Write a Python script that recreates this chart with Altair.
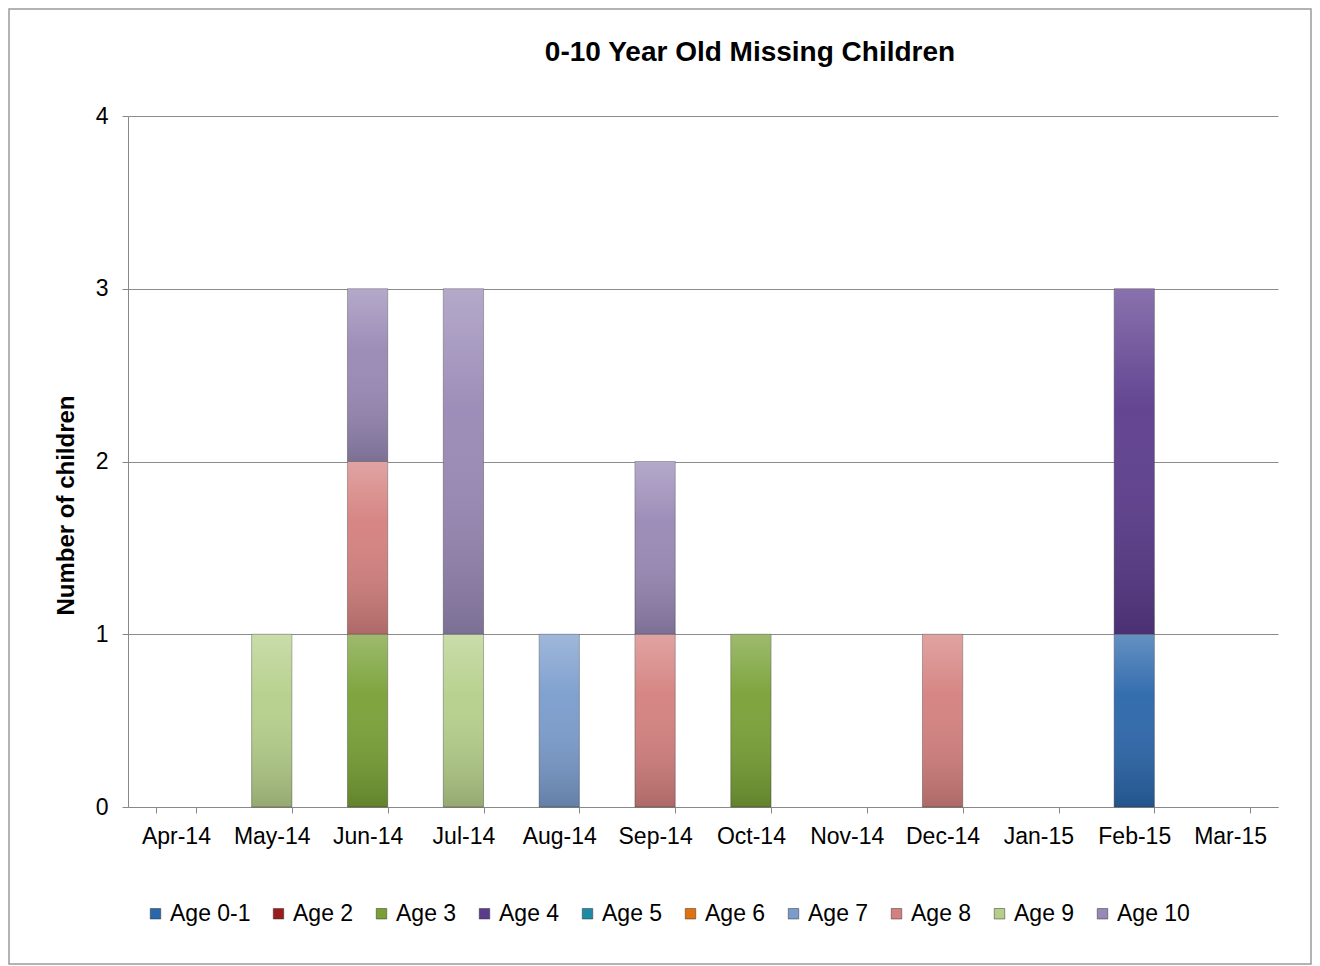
import altair as alt
import pandas as pd

months = ["Apr-14", "May-14", "Jun-14", "Jul-14", "Aug-14", "Sep-14",
          "Oct-14", "Nov-14", "Dec-14", "Jan-15", "Feb-15", "Mar-15"]
ages = ["Age 0-1", "Age 2", "Age 3", "Age 4", "Age 5",
        "Age 6", "Age 7", "Age 8", "Age 9", "Age 10"]
colors = ["#2A66AA", "#9B1C1C", "#78A035", "#5B3B8C", "#1E8BA5",
          "#E07010", "#7A9CCC", "#D4807E", "#B5CF8A", "#9888B5"]
title_text = ["0-10 Year Old Missing Children"]

age_0_1 = [0, 0, 0, 0, 0, 0, 0, 0, 0, 0, 1, 0]
age_2   = [0, 0, 0, 0, 0, 0, 0, 0, 0, 0, 0, 0]
age_3   = [0, 0, 1, 0, 0, 0, 1, 0, 0, 0, 0, 0]
age_4   = [0, 0, 0, 0, 0, 0, 0, 0, 0, 0, 2, 0]
age_5   = [0, 0, 0, 0, 0, 0, 0, 0, 0, 0, 0, 0]
age_6   = [0, 0, 0, 0, 0, 0, 0, 0, 0, 0, 0, 0]
age_7   = [0, 0, 0, 0, 1, 0, 0, 0, 0, 0, 0, 0]
age_8   = [0, 0, 1, 0, 0, 1, 0, 0, 1, 0, 0, 0]
age_9   = [0, 1, 0, 1, 0, 0, 0, 0, 0, 0, 0, 0]
age_10  = [0, 0, 1, 2, 0, 1, 0, 0, 0, 0, 0, 0]

series = [age_0_1, age_2, age_3, age_4, age_5, age_6, age_7, age_8, age_9, age_10]

rows = []
for i, (age, vals) in enumerate(zip(ages, series)):
    for m, v in zip(months, vals):
        if v > 0:
            rows.append({"Month": m, "Age": age, "Count": v, "idx": i})
df = pd.DataFrame(rows)

FONT = "Liberation Sans"

x_enc = alt.X("Month:N", sort=months, scale=alt.Scale(domain=months, paddingInner=0.58, paddingOuter=0.29),
              axis=alt.Axis(title=None, labelAngle=0, tickBand="extent", labelFontSize=23,
                            labelPadding=12, tickSize=6, labelColor="#000", labelFont=FONT,
                            domainColor="#888888", tickColor="#888888"))
y_enc = alt.Y("Count:Q", stack="zero", scale=alt.Scale(domain=[0, 4]),
              axis=alt.Axis(title="Number of children", values=[0, 1, 2, 3, 4], format="d",
                            titleFontSize=24, titleFont=FONT, titleFontWeight="bold", titleColor="#000",
                            titleX=-62, titleY=389, titleAlign="center", titleBaseline="middle",
                            labelFontSize=23, labelFont=FONT, labelColor="#000",
                            labelPadding=14, tickSize=6, grid=True, gridColor="#8c8c8c",
                            domainColor="#888888", tickColor="#888888"))

bars = alt.Chart(df).mark_bar(stroke="#3a3a3a", strokeWidth=0.8, strokeOpacity=0.5).encode(
    x=x_enc,
    y=y_enc,
    order=alt.Order("idx:Q", sort="ascending"),
    color=alt.Color("Age:N", scale=alt.Scale(domain=ages, range=colors),
                    legend=alt.Legend(title=None, orient="none", legendX=16, legendY=786,
                                      direction="horizontal", columns=10, symbolType="square",
                                      symbolSize=110, symbolStrokeColor="#333", symbolStrokeWidth=0.5,
                                      labelFontSize=23, labelFont=FONT, labelColor="#000",
                                      labelOffset=3, columnPadding=16, labelLimit=200)),
)

shade = alt.Chart(df).mark_bar(
    fill=alt.Gradient(gradient="linear",
                      stops=[alt.GradientStop(color="rgba(255,255,255,0.28)", offset=0),
                             alt.GradientStop(color="rgba(255,255,255,0.05)", offset=0.35),
                             alt.GradientStop(color="rgba(0,0,0,0.18)", offset=1)],
                      x1=0, x2=0, y1=0, y2=1)
).encode(
    x=alt.X("Month:N", sort=months),
    y=alt.Y("Count:Q", stack="zero"),
    order=alt.Order("idx:Q", sort="ascending"),
)

title = alt.Chart(pd.DataFrame({"t": title_text})).mark_text(
    fontSize=28, font=FONT, fontWeight="bold", color="#000", align="center", baseline="alphabetic"
).encode(text="t:N", x=alt.value(622), y=alt.value(-55))

frame = alt.Chart(pd.DataFrame({"a": [0]})).mark_rect(
    fill="transparent", stroke="#9a9a9a", strokeWidth=1.5
).encode(
    x=alt.value(-119), x2=alt.value(1183), y=alt.value(-107), y2=alt.value(848)
)

chart = alt.layer(bars, shade, title, frame).properties(
    width=1150, height=691,
    padding={"left": 120, "top": 108, "right": 34, "bottom": 159},
    autosize=alt.AutoSizeParams(type="none"),
    background="white",
).configure_view(stroke="transparent")

chart.save("out.html", embed_options={"renderer": "svg", "actions": False})
